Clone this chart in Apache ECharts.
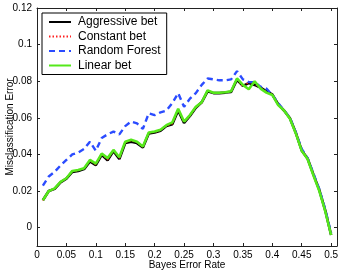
<!DOCTYPE html>
<html><head><meta charset="utf-8">
<script src="https://cdn.jsdelivr.net/npm/echarts@6/dist/echarts.min.js"></script>
<style>html,body{margin:0;padding:0;background:#fff}#c{width:342px;height:273px}</style>
</head><body><div id="c"></div>
<script>
const bayesRate = [0.01,0.02,0.03,0.04,0.05,0.06,0.07,0.08,0.09,0.10,
  0.11,0.12,0.13,0.14,0.15,0.16,0.17,0.18,0.19,0.20,
  0.21,0.22,0.23,0.24,0.25,0.26,0.27,0.28,0.29,0.30,
  0.31,0.32,0.33,0.34,0.35,0.36,0.37,0.38,0.39,0.40,
  0.41,0.42,0.43,0.44,0.45,0.46,0.47,0.48,0.49,0.50];
const aggressiveBet = [0.0150,0.0200,0.0212,0.0248,0.0268,0.0305,0.0310,0.0320,0.0362,0.0342,
  0.0398,0.0368,0.0418,0.0375,0.0462,0.0470,0.0462,0.0438,0.0515,0.0520,
  0.0530,0.0555,0.0565,0.0640,0.0572,0.0610,0.0655,0.0685,0.0745,0.0735,
  0.0735,0.0738,0.0742,0.0808,0.0775,0.0790,0.0780,0.0765,0.0745,0.0728,
  0.0675,0.0640,0.0598,0.0518,0.0422,0.0378,0.0290,0.0205,0.0095,-0.0040];
const constantBet = [0.0148,0.0200,0.0213,0.0249,0.0270,0.0307,0.0312,0.0322,0.0366,0.0345,
  0.0402,0.0372,0.0422,0.0380,0.0466,0.0476,0.0466,0.0440,0.0518,0.0522,
  0.0532,0.0557,0.0568,0.0645,0.0575,0.0612,0.0658,0.0682,0.0748,0.0736,
  0.0737,0.0740,0.0744,0.0812,0.0770,0.0795,0.0785,0.0762,0.0742,0.0726,
  0.0672,0.0640,0.0598,0.0518,0.0420,0.0375,0.0288,0.0203,0.0093,-0.0040];
const randomForest = [0.0230,0.0280,0.0305,0.0340,0.0370,0.0400,0.0410,0.0430,0.0470,0.0420,
  0.0490,0.0510,0.0525,0.0510,0.0555,0.0580,0.0570,0.0540,0.0625,0.0615,
  0.0630,0.0640,0.0680,0.0735,0.0660,0.0705,0.0735,0.0780,0.0815,0.0810,
  0.0805,0.0805,0.0810,0.0855,0.0810,0.0795,0.0795,0.0770,0.0760,0.0725,
  0.0680,0.0640,0.0600,0.0520,0.0430,0.0380,0.0295,0.0210,0.0100,-0.0030];
const linearBet = [0.0150,0.0200,0.0215,0.0250,0.0270,0.0310,0.0315,0.0325,0.0370,0.0350,
  0.0405,0.0380,0.0425,0.0385,0.0470,0.0480,0.0470,0.0443,0.0520,0.0525,
  0.0535,0.0560,0.0575,0.0650,0.0580,0.0615,0.0660,0.0685,0.0750,0.0737,
  0.0737,0.0740,0.0745,0.0815,0.0780,0.0756,0.0800,0.0760,0.0738,0.0725,
  0.0670,0.0640,0.0595,0.0515,0.0420,0.0375,0.0285,0.0200,0.0090,-0.0040];
const xTicks = [0,0.05,0.1,0.15,0.2,0.25,0.3,0.35,0.4,0.45,0.5];
const yTicks = [0,0.02,0.04,0.06,0.08,0.1,0.12];
const seriesNames = ['Aggressive bet','Constant bet','Random Forest','Linear bet'];

const pair = arr => bayesRate.map((x,i)=>[x,arr[i]]);
const font = 'Liberation Sans, Arial, sans-serif';
const axisCommon = {
  type:'value', splitLine:{show:false},
  axisLine:{show:true, onZero:false, lineStyle:{color:'#222', width:1}},
  axisTick:{show:true, inside:true, length:3, lineStyle:{color:'#222'}},
};
const chart = echarts.init(document.getElementById('c'), null, {renderer:'canvas'});
chart.setOption({
  animation:false,
  backgroundColor:'#fff',
  grid:{left:37, right:5, top:8, bottom:27, containLabel:false, outerBoundsMode:'none'},
  legend:{
    orient:'vertical', left:42, top:13,
    data:seriesNames,
    backgroundColor:'#fff', borderColor:'#000', borderWidth:1,
    padding:[3,6,3,6], itemWidth:22, itemHeight:12, itemGap:2.5,
    itemStyle:{opacity:0},
    textStyle:{fontFamily:font, fontSize:12, color:'#000', padding:[0,0,0,2]}
  },
  xAxis:[
    Object.assign({}, axisCommon, {min:0, max:0.51, position:'bottom',
      name:'Bayes Error Rate', nameLocation:'middle', nameGap:14, nameMoveOverlap:false,
      nameTextStyle:{fontFamily:font, fontSize:10, color:'#000'},
      axisTick:Object.assign({}, axisCommon.axisTick, {customValues:xTicks}),
      axisLabel:{customValues:xTicks, fontFamily:font, fontSize:10, color:'#000', margin:4,
        formatter:v=>String(v)}}),
    Object.assign({}, axisCommon, {min:0, max:0.51, position:'top',
      axisTick:Object.assign({}, axisCommon.axisTick, {customValues:xTicks}),
      axisLabel:{show:false}})
  ],
  yAxis:[
    Object.assign({}, axisCommon, {min:-0.01, max:0.12, position:'left',
      name:'Misclassification Error', nameLocation:'middle', nameGap:22, nameMoveOverlap:false,
      nameTextStyle:{fontFamily:font, fontSize:10, color:'#000'},
      axisTick:Object.assign({}, axisCommon.axisTick, {customValues:yTicks}),
      axisLabel:{customValues:yTicks, fontFamily:font, fontSize:10, color:'#000', margin:5,
        formatter:v=>String(v)}}),
    Object.assign({}, axisCommon, {min:-0.01, max:0.12, position:'right',
      axisTick:Object.assign({}, axisCommon.axisTick, {customValues:yTicks}),
      axisLabel:{show:false}})
  ],
  series:[
    {name:seriesNames[0], type:'line', data:pair(aggressiveBet), symbol:'none',
      color:'#000', lineStyle:{color:'#000', width:2.6}},
    {name:seriesNames[1], type:'line', data:pair(constantBet), symbol:'none',
      color:'#ff2020', lineStyle:{color:'#ff2020', width:1.5, type:[1.5,2]}},
    {name:seriesNames[2], type:'line', data:pair(randomForest), symbol:'none',
      color:'#2b4cff', lineStyle:{color:'#2b4cff', width:2.4, type:[6,4]}},
    {name:seriesNames[3], type:'line', data:pair(linearBet), symbol:'none',
      color:'#55e81a', lineStyle:{color:'#55e81a', width:2.6}}
  ]
});
</script></body></html>
